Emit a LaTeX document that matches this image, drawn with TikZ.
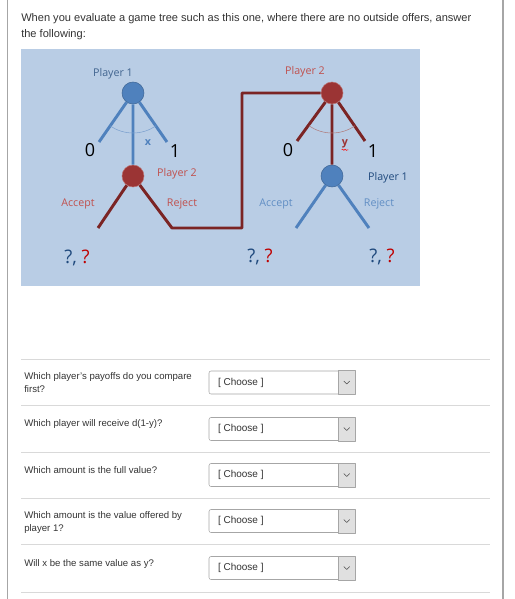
\documentclass[tikz,border=0pt]{standalone}
\usepackage{fontspec}
\setmainfont{Liberation Sans}
\newfontfamily\treefont{Open Sans}
\usepackage{tikz}
\usetikzlibrary{positioning,decorations.pathmorphing}
\definecolor{panelblue}{HTML}{B9CDE5}
\definecolor{oneblue}{HTML}{4F81BD}
\definecolor{onedark}{HTML}{1F497D}
\definecolor{onelabel}{HTML}{41648F}
\definecolor{twored}{HTML}{9B3434}
\definecolor{twoline}{HTML}{7B2424}
\definecolor{twolabel}{HTML}{C0504D}
\definecolor{pagetext}{HTML}{333333}
\definecolor{rulegray}{HTML}{D9D9D9}
\definecolor{framegray}{HTML}{A6A6A6}
\tikzset{
    %Define style for player nodes
    pone/.style={
           circle,
           draw=oneblue!80!black, thin,
           fill=oneblue,
           minimum size=16.5pt,
           inner sep=0pt},
    ptwo/.style={
           circle,
           draw=twored!70!white, thin,
           fill=twored,
           minimum size=16.5pt,
           inner sep=0pt},
    %Define style for tree labels
    tlabel/.style={
           font=\treefont\fontsize{8}{9}\selectfont,
           inner sep=0pt},
    share/.style={
           font=\treefont\fontsize{13.5}{15}\selectfont,
           inner sep=0pt},
    payoff/.style={
           font=\treefont\fontsize{14}{16}\selectfont,
           inner sep=0pt},
    % Define branch styles
    bone/.style={
           draw=oneblue,
           line width=2.2pt},
    btwo/.style={
           draw=twoline,
           line width=2.2pt},
    %Define style for the question rows
    question/.style={
           anchor=north west,
           align=left,
           inner sep=0pt,
           text=pagetext,
           font=\fontsize{7.2}{10.1}\selectfont},
    choosebox/.style={
           rectangle,
           rounded corners=1.5pt,
           draw=black!35, thin,
           fill=white,
           minimum width=109.5pt,
           minimum height=17.25pt},
    choosetext/.style={
           inner sep=0pt,
           text=pagetext,
           font=\fontsize{7.5}{9}\selectfont},
    btn/.style={
           draw=black!35, thin,
           fill=black!12}
}
\begin{document}
\begin{tikzpicture}[x=0.75pt,y=-0.75pt,line join=round]
\useasboundingbox (0,0) rectangle (514,599);
% page frame
\draw[framegray,line width=1.1pt] (7.5,0) -- (7.5,599);
\draw[framegray,line width=1.1pt] (503,0) -- (503,599);
\node[anchor=north west,align=left,inner sep=0pt,text=pagetext,
      font=\fontsize{8.3}{12}\selectfont] (intro) at (21,12.8)
  {When you evaluate a game tree such as this one, where there are no outside offers, answer\\the following:};
% game tree panel
\fill[panelblue] (21,49) rectangle (420,286);
\node[pone] (pl1) at (133,93) {};
\node[ptwo] (pl2) at (133,176) {};
\node[ptwo] (pr2) at (332,93) {};
\node[pone] (pr1) at (332,176) {};
\coordinate (lo) at (99,142);
\coordinate (lh) at (167,142);
\coordinate (lacc) at (98,228);
\coordinate (lrej) at (172,228);
\coordinate (bend) at (242,228);
\coordinate (ro) at (297,141);
\coordinate (rh) at (365,141);
\coordinate (racc) at (296,228);
\coordinate (rrej) at (369,228);
\path[bone] (pl1) -- (lo) (pl1) -- (lh) (pl1) -- (pl2);
\path[btwo] (pl2) -- (lacc) (pl2) -- (lrej) -- (bend) |- (pr2);
\path[btwo] (pr2) -- (ro) (pr2) -- (rh) (pr2) -- (pr1);
\path[bone] (pr1) -- (racc) (pr1) -- (rrej);
\draw[oneblue!75!white,thin] (pl1.center) ++(125:40) arc[start angle=125,end angle=55,radius=40];
\draw[twoline!60!white,thin] (pr2.center) ++(125:40) arc[start angle=125,end angle=55,radius=40];
% labels of the first move
\node[tlabel,text=onelabel] (name1) at (113,74) {Player 1};
\node[share] (zl) at (90,150) {0};
\node[share] (ol) at (175,151) {1};
\node[tlabel,text=oneblue,font=\treefont\bfseries\fontsize{8}{9}\selectfont] (xl) at (148,143) {x};
\node[tlabel,text=twolabel] (name2) at (177,174) {Player 2};
\node[tlabel,text=twolabel] (accl) at (78,204) {Accept};
\node[tlabel,text=twolabel] (rejl) at (182,204) {Reject};
\node[payoff] (pay1) at (77,258) {\textcolor{onedark}{?,} \textcolor{red!75!black}{?}};
% labels of the second move
\node[tlabel,text=twolabel] (name3) at (305,72) {Player 2};
\node[share] (zr) at (288,150) {0};
\node[share] (or) at (373,151) {1};
\node[tlabel,text=twored,font=\treefont\bfseries\fontsize{8}{9}\selectfont] (yl) at (345,144) {y};
\draw[red,thin,decorate,decoration={snake,amplitude=0.5pt,segment length=2pt}]
  ([yshift=-1pt]yl.south west) -- ([yshift=-1pt]yl.south east);
\node[tlabel,text=onedark] (name4) at (388,178) {Player 1};
\node[tlabel,text=oneblue!90!white] (accr) at (276,204) {Accept};
\node[tlabel,text=oneblue!90!white] (rejr) at (379,204) {Reject};
\node[payoff] (pay2) at (260,257) {\textcolor{onedark}{?,} \textcolor{red!75!black}{?}};
\node[payoff] (pay3) at (382,257) {\textcolor{onedark}{?,} \textcolor{red!75!black}{?}};
% question rows
\foreach \yy in {359,405,452,498,544,592}
  \draw[rulegray,thin] (21,\yy) -- (490,\yy);
\node[question] (ask1) at (24,372) {Which player's payoffs do you compare\\first?};
\node[question] (ask2) at (24,419) {Which player will receive d(1-y)?};
\node[question] (ask3) at (24,466) {Which amount is the full value?};
\node[question] (ask4) at (24,511) {Which amount is the value offered by\\player 1?};
\node[question] (ask5) at (24,559) {Will x be the same value as y?};
\foreach \yy [count=\i] in {382.5,429,475,521,568}{
  \node[choosebox] (box\i) at (282,\yy) {};
  \draw[btn] ([xshift=-12.75pt]box\i.north east) rectangle (box\i.south east);
  \node[choosetext,right=6.75pt of box\i.west] (pick\i) {[ Choose ]};
  \draw[black!70,thin] ([xshift=-8.6pt,yshift=1.1pt]box\i.east) -- ++(2.2pt,-2.2pt) -- ++(2.2pt,2.2pt);
}
\end{tikzpicture}
\end{document}
